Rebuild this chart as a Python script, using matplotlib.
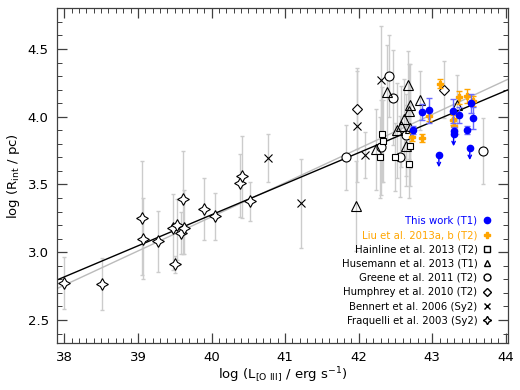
import numpy as np
import matplotlib
matplotlib.use("Agg")
import matplotlib.pyplot as plt
from matplotlib.ticker import MultipleLocator
from matplotlib.lines import Line2D

# --- data ---
# This work (T1), blue
tw_x = [42.74, 42.86, 42.95, 43.28, 43.29, 43.37, 43.47, 43.52, 43.55]
tw_y = [3.90, 4.035, 4.047, 4.04, 3.894, 4.015, 3.90, 4.10, 3.99]
tw_err = [0.03, 0.06, 0.09, 0.09, 0.03, 0.06, 0.03, 0.07, 0.08]
# upper limits (drawn with down arrows)
tw_lim_x = [43.09, 43.29, 43.51]
tw_lim_y = [3.717, 3.872, 3.77]

# Liu et al. 2013a,b (T2), orange
liu_x = [42.73, 42.86, 42.95, 43.10, 43.28, 43.30, 43.37, 43.47, 43.55]
liu_y = [3.85, 3.84, 4.005, 4.245, 3.976, 3.93, 4.143, 4.153, 4.116]
liu_err = [0.03, 0.03, 0.04, 0.03, 0.04, 0.06, 0.05, 0.05, 0.04]

# Hainline et al. 2013 (T2)
hai_x = [42.32, 42.33, 42.29, 42.49, 42.70, 42.68]
hai_y = [3.87, 3.82, 3.70, 3.705, 3.785, 3.648]
hai_err = [0.35, 0.30, 0.30, 0.25, 0.30, 0.25]

# Husemann et al. 2013 (T1)
hus_x = [41.97, 42.24, 42.39, 42.67, 42.83, 42.70, 42.69, 42.62, 42.57, 42.52, 42.70, 42.65, 43.33]
hus_y = [3.34, 3.76, 4.18, 4.235, 4.12, 4.086, 4.04, 3.98, 3.93, 3.90, 3.92, 3.785, 4.09]
hus_err = [0.33, 0.30, 0.35, 0.25, 0.22, 0.30, 0.35, 0.30, 0.30, 0.35, 0.30, 0.30, 0.22]

# Greene et al. 2011 (T2)
gre_x = [41.83, 42.31, 42.41, 42.47, 42.56, 42.65, 43.69]
gre_y = [3.70, 3.775, 4.30, 4.14, 3.705, 3.865, 3.747]
gre_err = [0.24, 0.35, 0.30, 0.35, 0.30, 0.30, 0.24]

# Humphrey et al. 2010 (T2)
hum_x = [41.98, 43.16]
hum_y = [4.06, 4.20]
hum_err = [0.30, 0.21]

# Bennert et al. 2006 (Sy2)
ben_x = [40.77, 41.21, 41.98, 42.09, 42.31]
ben_y = [3.695, 3.36, 3.93, 3.72, 4.27]
ben_err = [0.18, 0.33, 0.41, 0.17, 0.40]

# Fraquelli et al. 2003 (Sy2)
fra_x = [38.00, 38.51, 39.06, 39.07, 39.27, 39.47, 39.53, 39.51,
         39.58, 39.61, 39.62, 39.90, 40.05, 40.39, 40.42, 40.52]
fra_y = [2.774, 2.764, 3.25, 3.10, 3.08, 3.18, 3.20, 2.91,
         3.14, 3.39, 3.18, 3.32, 3.27, 3.51, 3.56, 3.38]
fra_lo = [0.19, 0.19, 0.42, 0.30, 0.225, 0.31, 0.26, 0.06,
          0.155, 0.40, 0.19, 0.23, 0.18, 0.25, 0.31, 0.15]
fra_hi = [0.19, 0.19, 0.42, 0.30, 0.225, 0.25, 0.19, 0.06,
          0.155, 0.36, 0.28, 0.225, 0.17, 0.215, 0.30, 0.14]

# fitted relations (slope, intercept)
fit_black = (0.229, -5.884)
fit_gray = (0.252, -6.819)

plt.rcParams['font.family'] = ['DejaVu Sans']
fig = plt.figure(figsize=(5.2, 3.9), dpi=100)
ax = fig.add_axes([0.1096, 0.1205, 0.8674, 0.8582])

gcol = '#cccccc'
ebkw = dict(fmt='none', ecolor=gcol, elinewidth=1.0, capsize=1.5, zorder=1)
ax.errorbar(fra_x, fra_y, yerr=[fra_lo, fra_hi], **ebkw)
for xs, ys, es in [(ben_x, ben_y, ben_err), (gre_x, gre_y, gre_err),
                   (hum_x, hum_y, hum_err), (hus_x, hus_y, hus_err),
                   (hai_x, hai_y, hai_err)]:
    ax.errorbar(xs, ys, yerr=es, **ebkw)

xx = np.array([37.9, 44.03])
ax.plot(xx, fit_gray[0] * xx + fit_gray[1], color='#bbbbbb', lw=1.0, zorder=2)
ax.plot(xx, fit_black[0] * xx + fit_black[1], color='black', lw=1.0, zorder=2)

mk = dict(linestyle='none', mec='black', mew=0.8, zorder=3)
ax.plot(fra_x, fra_y, marker=(4, 1, 0), ms=8.5, mfc='white', **mk)
ax.plot(ben_x, ben_y, marker='x', ms=6, color='black', mew=0.8, linestyle='none', zorder=3)
ax.plot(hum_x, hum_y, marker='D', ms=4.8, mfc='white', **mk)
ax.plot(gre_x, gre_y, marker='o', ms=6.5, mfc='white', **mk)
ax.plot(hus_x, hus_y, marker='^', ms=6.5, mfc='none', **mk)
ax.plot(hai_x, hai_y, marker='s', ms=5, mfc='white', **mk)

ax.errorbar(liu_x, liu_y, yerr=liu_err, fmt='P', ms=4.5, color='orange',
            ecolor='orange', elinewidth=1, capsize=2, zorder=4)
ax.errorbar(tw_x, tw_y, yerr=tw_err, fmt='o', ms=4.5, color='blue',
            ecolor='#6a6aff', elinewidth=1, capsize=2, zorder=5)
ax.plot(tw_lim_x, tw_lim_y, 'o', ms=4.5, color='blue', zorder=5)
for x, y in zip(tw_lim_x, tw_lim_y):
    ax.annotate('', xy=(x, y - 0.09), xytext=(x, y),
                arrowprops=dict(arrowstyle='->', color='blue', lw=1,
                                shrinkA=0, shrinkB=0, mutation_scale=6), zorder=5)

ax.set_xlim(37.9, 44.03)
ax.set_ylim(2.33, 4.80)
ax.xaxis.set_major_locator(MultipleLocator(1))
ax.xaxis.set_minor_locator(MultipleLocator(0.1))
ax.yaxis.set_major_locator(MultipleLocator(0.5))
ax.yaxis.set_minor_locator(MultipleLocator(0.1))
ax.tick_params(which='both', direction='in', top=True, right=True,
               labelsize=9.5, color='#404040', pad=6)
ax.tick_params(which='major', length=7, width=0.9)
ax.tick_params(which='minor', length=3.5, width=0.7)
for s in ax.spines.values():
    s.set_color('#404040')
    s.set_linewidth(0.9)

ax.set_xlabel(r'log (L$_{\rm [O\ III]}$ / erg s$^{-1}$)', fontsize=9.5, labelpad=1)
ax.set_ylabel(r'log (R$_{\rm int}$ / pc)', fontsize=9.5, labelpad=4)

handles = [
    Line2D([], [], marker='o', ms=4.5, color='blue', linestyle='none'),
    Line2D([], [], marker='P', ms=4.5, color='orange', linestyle='none'),
    Line2D([], [], marker='s', ms=4.5, mfc='none', mec='black', linestyle='none'),
    Line2D([], [], marker='^', ms=5, mfc='none', mec='black', linestyle='none'),
    Line2D([], [], marker='o', ms=5, mfc='none', mec='black', linestyle='none'),
    Line2D([], [], marker='D', ms=4, mfc='none', mec='black', linestyle='none'),
    Line2D([], [], marker='x', ms=5, color='black', linestyle='none'),
    Line2D([], [], marker=(4, 1, 0), ms=6, mfc='none', mec='black', linestyle='none'),
]
labels = ['This work (T1)', 'Liu et al. 2013a, b (T2)', 'Hainline et al. 2013 (T2)',
          'Husemann et al. 2013 (T1)', 'Greene et al. 2011 (T2)',
          'Humphrey et al. 2010 (T2)', 'Bennert et al. 2006 (Sy2)',
          'Fraquelli et al. 2003 (Sy2)']
colors = ['blue', 'orange'] + ['black'] * 6
leg = ax.legend(handles, labels, loc='lower right', frameon=False, markerfirst=False,
                fontsize=7.3, labelspacing=0.42, handlelength=0.8, handletextpad=0.5,
                borderaxespad=1.3, labelcolor=colors)

fig.savefig('out.png', dpi=100)
